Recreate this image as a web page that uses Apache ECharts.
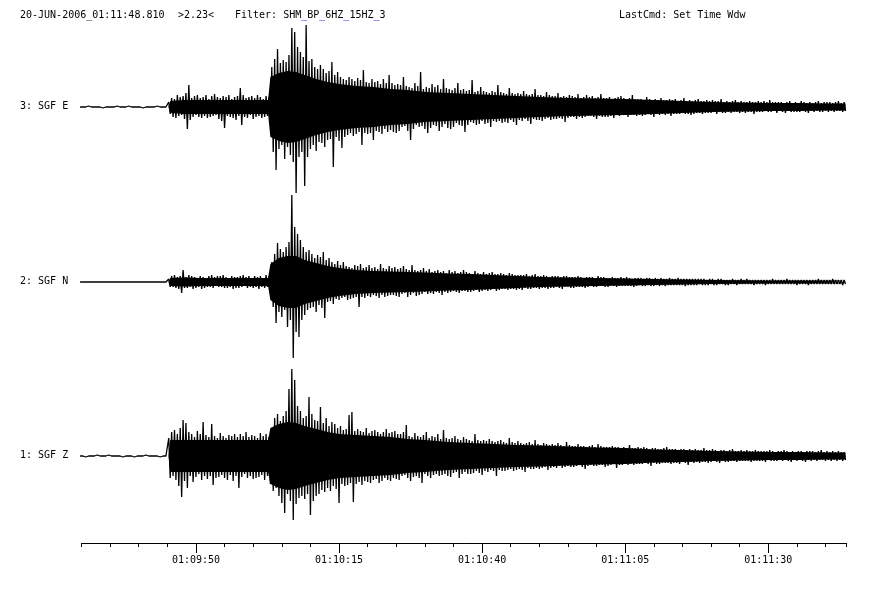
<!DOCTYPE html>
<html><head><meta charset="utf-8">
<script src="https://cdn.jsdelivr.net/npm/echarts@6/dist/echarts.min.js"></script>
<style>html,body{margin:0;padding:0;background:#fff}#c{width:896px;height:593px}</style>
</head><body><div id="c"></div>
<script>
// ---- sampling (seconds after 01:00:00) ----
const sampleStart = 569.75;
const sampleStep = 0.25;
const axisMin = 570, axisMax = 703.7;
const majorTicks = [590, 615, 640, 665, 690];
const markerTimes = [705.3, 706.9];

// ---- trace labels ----
const traceNames = ['3: SGF E', '2: SGF N', '1: SGF Z'];

// ---- dense inner band, shared time points ----
const coreTimes = [569.75, 585.2, 585.5, 588, 591, 594, 597, 600, 602.6, 603.0, 604.5, 606, 607.5, 609, 611, 613, 615, 618, 621, 624, 627, 630, 634, 638, 642, 646, 650, 655, 660, 665, 670, 675, 680, 685, 690, 695, 700, 703.5];
const E_core = [0, 0, 6, 7, 7, 7, 7, 7, 7, 30, 34, 36, 35, 32, 28, 25, 23, 21, 20, 18, 17, 15, 14, 13, 12, 11, 10, 9, 8.5, 8, 7, 6, 5, 4.5, 4, 4, 3.5, 3.5];
const N_core = [0, 0, 4, 4.5, 4, 4, 4, 4, 4, 18, 24, 26, 26, 22, 19, 16, 14, 12, 11, 10.5, 10, 9.5, 8.5, 8, 7, 6, 5, 4.5, 4, 3.5, 3, 2.5, 2, 1.8, 1.6, 1.5, 1.5, 1.5];
const Z_core = [0, 0, 16, 16, 16, 16, 16, 16, 16, 28, 32, 34, 33, 30, 27, 24, 22, 21, 20, 19, 17, 16, 14, 13, 12, 11, 10.5, 9.5, 8.5, 8, 6.5, 6, 5, 4.5, 4, 4, 3.5, 3.5];

// ---- 3: SGF E (amplitudes) ----
const E_pre = [0,0,0,0,0,0,1,-1,0,0, 0,0,0,0,0,1,-1,1,0,0, 0,0,0,0,0,0,1,-1,0,0, 0,0,0,0,1,-1,0,0,0,0, 0,0,0,1,-1,1,0,0,0,0, 0,0,0,0,1,-1,0,0,0,0, 0,0];
const E_p = [
  5,-7,9,-10,8,-11,12,-9,10,-8,11,-12,
  14,-22,22,-13,9,-10,11,-8,12,-10,9,-11,
  10,-9,12,-11,8,-10,11,-9,13,-8,10,-12,
  9,-14,11,-21,10,-9,12,-10,8,-11,10,-13,
  11,-9,19,-18,12,-10,9,-11,10,-8,11,-12,
  9,-10,12,-9,10,-11,8,-10,11,-9,10,-14];
const E_s = [
  40,-45,48,-63,58,-42,44,-38,47,-52,45,-40,
  52,-48,79,-55,75,-86,60,-50,55,-45,50,-79,
  82,-50,46,-42,48,-38,40,-44,38,-35,42,-36,
  38,-40,34,-33,36,-32,45,-60,32,-30,35,-34,
  30,-41,28,-30,27,-28,30,-26,28,-29,26,-27,
  29,-25,27,-38,37,-26,25,-27,24,-26,28,-33,
  25,-24,26,-25,23,-27,28,-22,24,-25,32,-23,
  24,-25,22,-26,23,-24];
const E_coda = [
  22,-20,30,-19,21,-24,20,-33,19,-22,24,-18,
  21,-20,35,-19,18,-22,20,-26,19,-21,23,-18,
  20,-19,22,-24,18,-20,28,-17,19,-21,18,-22,
  17,-20,19,-16,24,-18,17,-19,18,-25,16,-18,
  17,-15,27,-16,15,-18,16,-17,20,-14,16,-17,
  15,-16,14,-20,16,-14,15,-15,22,-14,15,-16,
  14,-15,13,-16,19,-13,14,-15,13,-18,14,-13,
  13,-14,16,-12,13,-14,12,-17,13,-12,18,-13,
  12,-13,12,-14,11,-12,15,-11,12,-13,11,-12,
  11,-12,14,-11,10,-12,11,-15,10,-11,12,-10,
  11,-10,10,-12,13,-10,9,-11,10,-10,12,-9,
  10,-9,11,-10,9,-12,10,-9,13,-10,9,-10,
  9,-10,10,-9,8,-11,9,-8,10,-9,11,-8,
  9,-8,8,-10,9,-8,12,-8,8,-9,8,-8,
  8,-9,7,-8,10,-7,8,-8,7,-10,8,-7,
  7,-8,9,-7,7,-8,7,-7,8,-9,7,-7,
  8,-7,6,-7,7,-6,9,-7,6,-7,7,-8,
  6,-7,7,-6,8,-6,6,-7,6,-6,7,-6,
  6,-6,7,-5,6,-7,6,-5,8,-6,5,-6,
  6,-5,5,-6,6,-5,7,-5,5,-6,6,-5,
  5,-6,5,-5,6,-5,5,-7,5,-5,6,-5,
  5,-5,6,-4,5,-5,7,-5,5,-4,5,-6,
  5,-4,5,-5,4,-6,5,-4,6,-5,4,-5,
  5,-5,4,-5,6,-4,5,-5,4,-6,5,-4,
  4,-5,5,-4,6,-5,4,-5,5,-4,5,-5,
  5,-4,4,-5,5,-4,6,-4,4,-5,5,-4];

// ---- 2: SGF N ----
const N_pre = [0,0,0,0,0,0,0,0,0,0, 0,0,0,0,0,0,0,0,0,0, 0,0,0,0,0,0,0,0,0,0, 0,0,0,0,0,0,0,0,0,0, 0,0,0,0,0,0,0,0,0,0, 0,0,0,0,0,0,0,0,0,0, 0,0];
const N_p = [
  3,-5,6,-5,7,-6,5,-7,6,-11,12,-6,
  5,-6,7,-5,6,-7,5,-6,4,-5,6,-7,
  5,-6,4,-5,6,-5,7,-6,5,-4,6,-5,
  6,-5,7,-6,5,-6,4,-5,6,-7,5,-6,
  5,-6,6,-5,7,-4,5,-6,6,-5,4,-6,
  6,-5,5,-7,6,-5,4,-6,7,-5,6,-8];
const N_s = [
  20,-25,28,-41,39,-30,33,-35,30,-28,35,-45,
  40,-38,87,-76,55,-50,48,-55,42,-38,35,-33,
  30,-28,32,-26,28,-25,24,-30,27,-23,25,-26,
  30,-36,22,-20,24,-19,20,-22,18,-17,21,-18,
  17,-16,20,-15,16,-18,15,-17,14,-16,17,-15,
  16,-25,18,-15,14,-16,15,-14,17,-15,14,-13,
  15,-14,13,-16,18,-13,14,-15,13,-14,16,-13,
  14,-13,15,-14,13,-15];
const N_coda = [
  14,-12,16,-11,13,-15,12,-13,17,-11,12,-14,
  11,-13,12,-12,14,-10,11,-12,13,-11,10,-12,
  11,-10,12,-11,10,-13,11,-10,9,-11,12,-10,
  10,-9,11,-10,9,-11,10,-9,12,-9,10,-10,
  9,-10,8,-9,11,-8,9,-10,8,-9,10,-8,
  8,-9,9,-8,10,-7,8,-9,8,-8,9,-7,
  8,-7,7,-8,9,-7,8,-7,7,-8,7,-7,
  7,-8,7,-6,8,-7,6,-7,7,-6,8,-6,
  6,-7,6,-6,7,-6,6,-7,5,-6,6,-6,
  6,-5,6,-6,5,-7,6,-5,6,-5,5,-6,
  5,-6,5,-5,6,-5,5,-5,4,-6,5,-5,
  5,-4,5,-5,4,-5,6,-4,5,-4,5,-5,
  4,-5,4,-4,5,-4,4,-5,4,-4,5,-4,
  4,-4,5,-4,4,-4,3,-5,4,-4,4,-3,
  4,-4,3,-4,4,-3,4,-4,3,-4,4,-3,
  3,-4,4,-3,3,-4,3,-3,4,-3,3,-3,
  3,-3,4,-3,3,-3,3,-4,3,-3,3,-3,
  3,-3,3,-3,3,-2,3,-3,3,-3,2,-3,
  3,-2,3,-3,2,-3,3,-2,3,-2,2,-3,
  2,-3,2,-2,3,-2,2,-3,2,-2,3,-2,
  2,-2,3,-2,2,-2,2,-3,2,-2,2,-2,
  2,-2,2,-3,2,-2,2,-2,3,-2,2,-2,
  2,-2,2,-2,2,-2,3,-2,2,-2,2,-2,
  2,-3,2,-2,2,-2,2,-2,2,-3,2,-2,
  2,-2,2,-2,3,-2,2,-2,2,-2,2,-2,
  2,-2,3,-2,2,-2,2,-2,2,-3,2,-2];

// ---- 1: SGF Z ----
const Z_pre = [0,0,0,1,-1,0,0,0,0,0, 0,0,1,-1,0,0,0,0,0,0, 1,-1,0,0,0,0,0,0,0,1, -1,0,0,0,0,0,0,1,-1,0, 0,0,0,0,0,0,1,-1,0,0, 0,0,0,0,0,1,-1,0,0,0, 0,0];
const Z_p = [
  18,-22,24,-20,26,-24,22,-30,28,-41,36,-25,
  33,-32,24,-20,22,-26,19,-21,25,-18,22,-24,
  34,-20,21,-23,19,-20,32,-29,20,-22,18,-21,
  23,-19,20,-22,18,-24,21,-19,20,-25,22,-20,
  19,-32,22,-21,20,-18,24,-22,19,-20,21,-23,
  20,-22,18,-21,23,-19,20,-24,22,-20,19,-28];
const Z_s = [
  28,-35,38,-32,42,-40,35,-47,40,-57,45,-38,
  67,-45,87,-64,76,-48,50,-42,45,-40,38,-43,
  40,-38,59,-59,42,-45,36,-40,35,-38,49,-34,
  33,-36,38,-32,30,-35,34,-30,32,-33,28,-47,
  30,-28,26,-30,27,-29,41,-27,44,-46,25,-28,
  27,-26,25,-29,24,-25,28,-26,23,-27,25,-24,
  26,-23,24,-27,22,-25,24,-22,27,-24,23,-25,
  24,-22,25,-23,22,-24];
const Z_coda = [
  22,-20,24,-19,31,-22,20,-25,19,-21,23,-20,
  20,-22,19,-27,21,-18,24,-20,18,-22,20,-19,
  19,-18,22,-20,17,-19,26,-18,18,-20,17,-21,
  18,-17,20,-16,17,-22,16,-18,19,-16,17,-18,
  16,-18,15,-17,22,-15,16,-17,15,-19,16,-15,
  15,-16,17,-14,15,-15,14,-20,15,-14,16,-15,
  14,-15,13,-14,18,-13,14,-15,13,-14,15,-13,
  13,-14,12,-16,13,-12,14,-13,12,-13,16,-12,
  12,-13,11,-12,13,-11,12,-14,11,-12,12,-11,
  11,-12,13,-10,11,-12,10,-11,14,-10,11,-11,
  10,-11,10,-10,12,-9,10,-11,10,-13,9,-10,
  10,-9,11,-10,9,-10,12,-9,10,-9,9,-11,
  9,-10,9,-9,10,-8,9,-12,9,-9,8,-9,
  9,-8,8,-9,11,-8,8,-9,8,-8,9,-8,
  8,-8,9,-7,8,-8,7,-10,8,-7,8,-8,
  7,-8,7,-7,8,-7,9,-7,7,-8,7,-7,
  7,-7,6,-8,7,-6,7,-7,6,-9,7,-6,
  6,-7,7,-6,6,-7,6,-6,8,-6,6,-7,
  6,-6,7,-5,6,-6,5,-7,6,-5,6,-6,
  5,-6,6,-5,7,-5,5,-6,5,-5,6,-5,
  5,-5,6,-5,5,-6,5,-5,6,-5,5,-5,
  5,-5,5,-6,5,-4,6,-5,5,-5,4,-5,
  5,-4,5,-5,6,-4,5,-5,4,-6,5,-4,
  4,-5,5,-4,5,-5,4,-6,5,-4,5,-5,
  5,-4,4,-5,5,-4,6,-4,4,-5,5,-4,
  4,-5,5,-4,4,-5,5,-4,4,-5,4,-4];

const traces = [
  [].concat(E_pre, E_p, E_s, E_coda),
  [].concat(N_pre, N_p, N_s, N_coda),
  [].concat(Z_pre, Z_p, Z_s, Z_coda)
];
const cores = [E_core, N_core, Z_core];

const mono = 'DejaVu Sans Mono';
function fmt(v) {
  const m = Math.floor(v / 60), s = Math.round(v - m * 60);
  const p = n => (n < 10 ? '0' : '') + n;
  return '01:' + p(m) + ':' + p(s);
}

const grids = [
  {left: 81.5, right: 49.3, top: 17, height: 180},
  {left: 81.5, right: 49.3, top: 192, height: 180},
  {left: 81.5, right: 49.3, top: 369, height: 174}
];
const yRanges = [90, 90, 87];

const xAxes = [0, 1, 2].map(g => ({
  type: 'value', gridIndex: g, min: axisMin, max: axisMax, interval: 5,
  show: g === 2, position: 'bottom',
  axisLine: {show: true, onZero: false, lineStyle: {color: '#000', width: 1}},
  axisTick: {show: true, length: 4, lineStyle: {color: '#000'}},
  axisLabel: {show: false},
  splitLine: {show: false}
}));
xAxes.push({
  type: 'value', gridIndex: 2, min: axisMin, max: axisMax, position: 'bottom',
  axisLine: {show: false, onZero: false},
  axisTick: {show: true, length: 10, customValues: majorTicks, lineStyle: {color: '#000'}},
  axisLabel: {show: true, customValues: majorTicks, formatter: fmt, margin: 12,
    fontFamily: mono, fontSize: 10, color: '#000'},
  splitLine: {show: false}
});

const yAxes = [0, 1, 2].map(g => ({
  type: 'value', gridIndex: g, min: -yRanges[g], max: yRanges[g], show: false
}));

const series = [];
traces.forEach((vals, g) => {
  [1, -1].forEach(sign => {
    series.push({
      type: 'line', xAxisIndex: g, yAxisIndex: g, symbol: 'none', animation: false,
      lineStyle: {width: 0}, areaStyle: {color: '#000', opacity: 1},
      data: coreTimes.map((t, k) => [t, sign * cores[g][k]])
    });
  });
  series.push({
    type: 'line', xAxisIndex: g, yAxisIndex: g, symbol: 'none', animation: false,
    sampling: null, clip: false,
    lineStyle: {color: '#000', width: 1.3, join: 'bevel'},
    data: vals.map((v, i) => [sampleStart + i * sampleStep, v])
  });
  series.push({
    type: 'line', xAxisIndex: g, yAxisIndex: g, symbol: 'none', animation: false, clip: false,
    lineStyle: {color: '#ffff00', width: 1},
    data: markerTimes.map(t => [t, 0])
  });
});

const graphic = [
  {type: 'text', left: 20, top: 10, style: {text: '20-JUN-2006_01:11:48.810', font: '10px ' + mono, fill: '#000'}},
  {type: 'text', left: 178, top: 10, style: {text: '>2.23<', font: '10px ' + mono, fill: '#000'}},
  {type: 'text', left: 235, top: 10, style: {
    text: '{a|Filter: SHM}{u|_}{a|BP}{u|_}{a|6HZ}{u|_}{a|15HZ}{u|_}{a|3}',
    rich: {a: {fontFamily: mono, fontSize: 10, fill: '#000'}, u: {fontFamily: mono, fontSize: 10, fill: '#0000ff'}}
  }},
  {type: 'text', left: 619, top: 10, style: {text: 'LastCmd: Set Time Wdw', font: '10px ' + mono, fill: '#000'}}
];
const centers = [107, 282, 456];
traceNames.forEach((n, k) => {
  graphic.push({type: 'text', left: 20, top: centers[k] - 6, style: {text: n, font: '10px ' + mono, fill: '#000'}});
});

const chart = echarts.init(document.getElementById('c'), null, {renderer: 'canvas'});
chart.setOption({
  animation: false, backgroundColor: '#fff',
  grid: grids, xAxis: xAxes, yAxis: yAxes, series: series, graphic: graphic
});
</script></body></html>
